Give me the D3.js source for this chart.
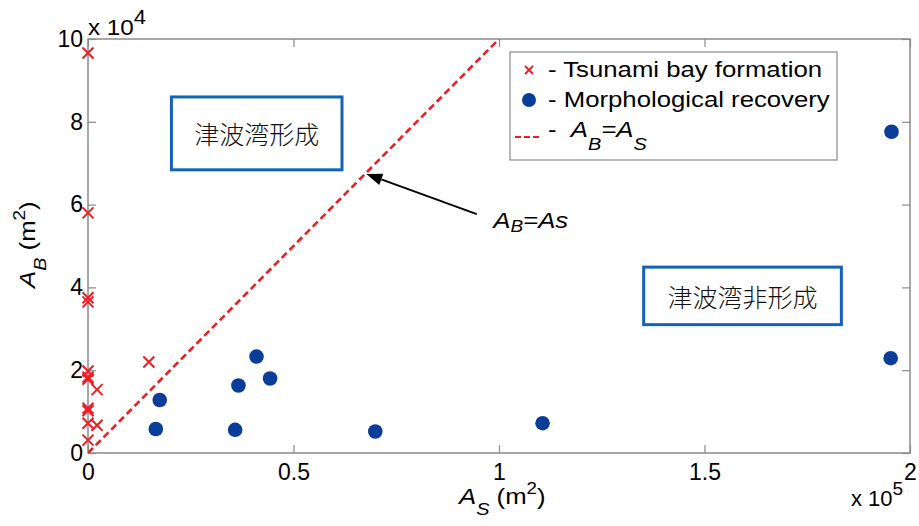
<!DOCTYPE html>
<html>
<head>
<meta charset="utf-8">
<script src="https://cdn.jsdelivr.net/npm/d3@7"></script>
<style>
  html, body { margin: 0; padding: 0; background: #fff; }
  svg { display: block; font-family: "Liberation Sans", Arial, sans-serif; }
</style>
</head>
<body>
<svg id="chart" width="919" height="526"></svg>
<script>
// ---- data ----
const tsunamiAS = [0, 0, 0, 0, 0, 0, 0, 2200, 0, 0, 0, 2200, 0, 14800];
const tsunamiAB = [96600, 58000, 37500, 36500, 19800, 18300, 17800, 15300, 10800, 10200, 7200, 6700, 3100, 22000];
const recoveryAS = [17450, 16500, 35800, 36600, 41000, 44300, 69900, 110600, 195300, 195500];
const recoveryAB = [12800, 5800, 5600, 16300, 23300, 18000, 5200, 7200, 22900, 77600];
const lineAS = [0, 100000];
const lineAB = [0, 100000];
const xTicks = [0, 50000, 100000, 150000, 200000];
const xTickLabels = ["0", "0.5", "1", "1.5", "2"];
const yTicks = [0, 20000, 40000, 60000, 80000, 100000];
const yTickLabels = ["0", "2", "4", "6", "8", "10"];
const legendLabels = ["- Tsunami bay formation", "- Morphological recovery"];
const boxLabels = ["津波湾形成", "津波湾非形成"];

// ---- layout ----
const svg = d3.select("#chart");
const L = 88, R = 910, T = 39, B = 453;
const x = d3.scaleLinear().domain([0, 200000]).range([L, R]);
const y = d3.scaleLinear().domain([0, 100000]).range([B, T]);
const red = "#f01c24", blue = "#0a3d99", axisCol = "#8a8a8a", boxCol = "#1463b8";
const K = 1.17; // horizontal stretch of the reference's Latin text

function stretch(t, k) {
  const x0 = +t.attr("x") || 0, y0 = +t.attr("y") || 0;
  t.attr("transform", `translate(${x0},${y0}) scale(${k},1) translate(${-x0},${-y0})`);
  return t;
}

// frame
svg.append("rect").attr("x", L).attr("y", T).attr("width", R - L).attr("height", B - T)
  .attr("fill", "none").attr("stroke", axisCol).attr("stroke-width", 1.5);

function styleAxis(g) {
  g.select(".domain").remove();
  g.selectAll(".tick line").attr("stroke", axisCol).attr("stroke-width", 1.2);
  g.selectAll(".tick text").attr("fill", "#000").attr("font-size", 23)
    .attr("font-family", "Liberation Sans, Arial, sans-serif");
}
const fmtX = (d, i) => xTickLabels[i];
const fmtY = (d, i) => yTickLabels[i];
svg.append("g").attr("transform", `translate(0,${B})`)
  .call(d3.axisBottom(x).tickValues(xTicks).tickFormat(fmtX).tickSize(-8).tickPadding(11)).call(styleAxis);
svg.append("g").attr("transform", `translate(0,${T})`)
  .call(d3.axisTop(x).tickValues(xTicks).tickFormat("").tickSize(-8)).call(styleAxis);
svg.append("g").attr("transform", `translate(${L},0)`)
  .call(d3.axisLeft(y).tickValues(yTicks).tickFormat(fmtY).tickSize(-8).tickPadding(5)).call(styleAxis);
svg.append("g").attr("transform", `translate(${R},0)`)
  .call(d3.axisRight(y).tickValues(yTicks).tickFormat("").tickSize(-8)).call(styleAxis);

// exponent labels
const e4 = svg.append("text").attr("x", L).attr("y", 35).attr("font-size", 22);
e4.append("tspan").text("x 10");
e4.append("tspan").attr("font-size", 20).attr("dy", -11).text("4");
stretch(e4, 1.1);
const e5 = svg.append("text").attr("x", 851).attr("y", 506).attr("font-size", 22);
e5.append("tspan").text("x 10");
e5.append("tspan").attr("font-size", 19).attr("dy", -11).text("5");

// axis titles
const xl = svg.append("text").attr("x", 459).attr("y", 504).attr("font-size", 22);
xl.append("tspan").attr("font-style", "italic").text("A");
xl.append("tspan").attr("font-style", "italic").attr("font-size", 17).attr("dy", 11).text("S");
xl.append("tspan").attr("dy", -11).text(" (m");
xl.append("tspan").attr("font-size", 16).attr("dy", -10).text("2");
xl.append("tspan").attr("dy", 10).text(")");
stretch(xl, K);

const yl = svg.append("text").attr("transform", `translate(35,288) rotate(-90) scale(${K},1)`).attr("font-size", 22);
yl.append("tspan").attr("font-style", "italic").text("A");
yl.append("tspan").attr("font-style", "italic").attr("font-size", 17).attr("dy", 11).text("B");
yl.append("tspan").attr("dy", -11).text(" (m");
yl.append("tspan").attr("font-size", 16).attr("dy", -10).text("2");
yl.append("tspan").attr("dy", 10).text(")");

// clip
svg.append("clipPath").attr("id", "clip").append("rect")
  .attr("x", L).attr("y", T).attr("width", R - L).attr("height", B - T);

// A_B = A_S dashed line
svg.append("line").attr("clip-path", "url(#clip)")
  .attr("x1", x(lineAS[0])).attr("y1", y(lineAB[0]))
  .attr("x2", x(lineAS[1])).attr("y2", y(lineAB[1]))
  .attr("stroke", red).attr("stroke-width", 2.6).attr("stroke-dasharray", "7,4");

// crosses
const cs = 5.5;
const crossG = svg.append("g");
tsunamiAS.forEach((v, i) => {
  const cx = x(v), cy = y(tsunamiAB[i]);
  crossG.append("path")
    .attr("d", `M${cx - cs},${cy - cs}L${cx + cs},${cy + cs}M${cx - cs},${cy + cs}L${cx + cs},${cy - cs}`)
    .attr("stroke", red).attr("stroke-width", 2).attr("fill", "none");
});

// circles
svg.append("g").selectAll("circle").data(recoveryAS).join("circle")
  .attr("cx", d => x(d)).attr("cy", (d, i) => y(recoveryAB[i])).attr("r", 7.3)
  .attr("fill", blue);

// annotation arrow
const tail = [94600, 57700], tip = [67700, 67400];
const tx = x(tail[0]), ty = y(tail[1]), hx = x(tip[0]), hy = y(tip[1]);
const ang = Math.atan2(hy - ty, hx - tx);
const hl = 16, hw = 6;
const bx = hx - hl * Math.cos(ang), by = hy - hl * Math.sin(ang);
svg.append("line").attr("x1", tx).attr("y1", ty).attr("x2", bx).attr("y2", by)
  .attr("stroke", "#000").attr("stroke-width", 2);
svg.append("path").attr("d",
  `M${hx},${hy}L${bx + hw * Math.sin(ang)},${by - hw * Math.cos(ang)}L${bx - hw * Math.sin(ang)},${by + hw * Math.cos(ang)}Z`)
  .attr("fill", "#000");
const at = svg.append("text").attr("x", x(98600)).attr("y", y(54300)).attr("font-size", 23).attr("font-style", "italic");
at.append("tspan").text("A");
at.append("tspan").attr("font-size", 17).attr("dy", 4).text("B");
at.append("tspan").attr("dy", -4).text("=As");
stretch(at, 1.12);

// text boxes
const boxes = [
  { x0: 20300, x1: 61800, y0: 86000, y1: 68400, label: boxLabels[0] },
  { x0: 135200, x1: 183300, y0: 44900, y1: 31000, label: boxLabels[1] }
];
boxes.forEach(b => {
  svg.append("rect").attr("x", x(b.x0)).attr("y", y(b.y0))
    .attr("width", x(b.x1) - x(b.x0)).attr("height", y(b.y1) - y(b.y0))
    .attr("fill", "#fff").attr("stroke", boxCol).attr("stroke-width", 3);
  svg.append("text").attr("x", (x(b.x0) + x(b.x1)) / 2).attr("y", (y(b.y0) + y(b.y1)) / 2)
    .attr("text-anchor", "middle").attr("dominant-baseline", "central")
    .attr("font-family", "Noto Sans CJK JP, Noto Sans CJK SC, sans-serif")
    .attr("font-size", 25).attr("font-weight", 300).attr("fill", "#111").text(b.label);
});

// legend
const lg = svg.append("g").attr("transform", "translate(510,52)");
lg.append("rect").attr("width", 327).attr("height", 108).attr("fill", "#fff")
  .attr("stroke", axisCol).attr("stroke-width", 1.2);
const lcx = 19, ls = 4;
lg.append("path").attr("d", `M${lcx - ls},${18 - ls}L${lcx + ls},${18 + ls}M${lcx - ls},${18 + ls}L${lcx + ls},${18 - ls}`)
  .attr("stroke", red).attr("stroke-width", 1.8);
stretch(lg.append("text").attr("x", 38).attr("y", 25).attr("font-size", 22).text(legendLabels[0]), K);
lg.append("circle").attr("cx", lcx).attr("cy", 48).attr("r", 7).attr("fill", blue);
stretch(lg.append("text").attr("x", 38).attr("y", 55).attr("font-size", 22).text(legendLabels[1]), K);
lg.append("line").attr("x1", 5).attr("x2", 30).attr("y1", 85).attr("y2", 85)
  .attr("stroke", red).attr("stroke-width", 2.2).attr("stroke-dasharray", "6,3");
const l3 = lg.append("text").attr("x", 38).attr("y", 85).attr("font-size", 22);
l3.append("tspan").text("-\u00a0\u00a0");
l3.append("tspan").attr("font-style", "italic").text("A");
l3.append("tspan").attr("font-style", "italic").attr("font-size", 17).attr("dy", 13).text("B");
l3.append("tspan").attr("font-style", "italic").attr("dy", -13).text("=A");
l3.append("tspan").attr("font-style", "italic").attr("font-size", 17).attr("dy", 13).text("S");
stretch(l3, K);
</script>
</body>
</html>
